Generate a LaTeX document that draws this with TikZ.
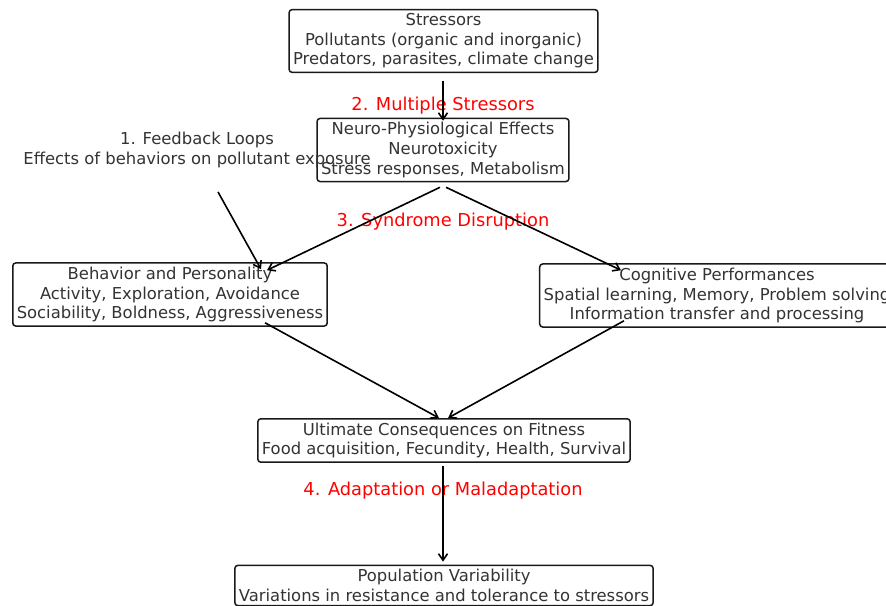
\documentclass[tikz,border=0pt]{standalone}
\usepackage{fontspec}
\setmainfont{DejaVu Sans}
\usetikzlibrary{arrows.meta,calc}
\definecolor{txt}{HTML}{333333}
\tikzset{
  box/.style={draw=black!90, line width=1.5pt, rounded corners=3pt, inner xsep=4pt, inner ysep=4pt,
    align=center, text=txt, font=\fontsize{16.4}{19.6}\selectfont},
  plain/.style={align=center, text=txt, inner sep=0pt, font=\fontsize{16.4}{19.6}\selectfont},
  redlab/.style={text=red, inner sep=0pt, font=\fontsize{17.8}{21}\selectfont},
  arr/.style={line width=1.6pt, black, -{Straight Barb[length=6.5pt,width=9pt]}}
}
\begin{document}
\begin{tikzpicture}[x=1pt,y=-1pt]
\useasboundingbox (0,0) rectangle (886,605);
\clip (0,0) rectangle (886,605);
\node[box] (stress) at (443.5,41) {Stressors\\Pollutants (organic and inorganic)\\Predators, parasites, climate change};
\node[box] (neuro) at (443,150) {Neuro-Physiological Effects\\Neurotoxicity\\Stress responses, Metabolism};
\node[box] (beh) at (170,294.5) {Behavior and Personality\\Activity, Exploration, Avoidance\\Sociability, Boldness, Aggressiveness};
\node[box] (cog) at (717,295.5) {Cognitive Performances\\Spatial learning, Memory, Problem solving\\Information transfer and processing};
\node[box] (ult) at (444,440.5) {Ultimate Consequences on Fitness\\Food acquisition, Fecundity, Health, Survival};
\node[box] (pop) at (444,585.5) {Population Variability\\Variations in resistance and tolerance to stressors};
\node[plain] (fb) at (197,150) {1. Feedback Loops\\Effects of behaviors on pollutant exposure};
\node[redlab] (l2) at (443,106) {2. Multiple Stressors};
\node[redlab] (l3) at (443,222) {3. Syndrome Disruption};
\node[redlab] (l4) at (443,491) {4. Adaptation or Maladaptation};

\draw[arr] ($(stress.south)+(-0.5,8)$) -- ($(neuro.north)+(0,3)$);
\draw[arr] ($(neuro.south)+(-3,5)$) -- ($(beh.north)+(97,8)$);
\draw[arr] ($(neuro.south)+(3,5)$) -- ($(cog.north)+(-96,7)$);
\draw[arr] ($(fb.south)+(21,24)$) -- ($(beh.north)+(91,7)$);
\draw[arr] ($(beh.south)+(95,-4)$) -- ($(ult.north)+(-5,0)$);
\draw[arr] ($(cog.south)+(-93,-7)$) -- ($(ult.north)+(4,0)$);
\draw[arr] ($(ult.south)+(-1,3)$) -- ($(pop.north)+(-1,-3)$);
\end{tikzpicture}
\end{document}
